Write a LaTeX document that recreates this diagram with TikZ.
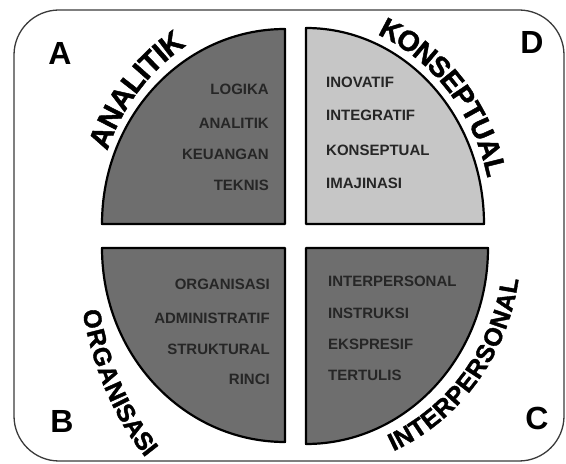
\documentclass[tikz,border=0pt]{standalone}
\usepackage{fontspec}
\setmainfont{Liberation Sans}
\newfontfamily\heavyfont{Liberation Sans}[UprightFont={* Bold}, FakeBold=1.5]
\definecolor{darkq}{HTML}{6E6E6E}
\definecolor{lightq}{HTML}{C6C6C6}
\definecolor{qtext}{HTML}{262626}
\definecolor{frameclr}{HTML}{3A3A3A}
% #1 centre coordinate, #2 x radius, #3 y radius, #4 middle angle,
% #5 direction (-1 clockwise, 1 counter-clockwise), #6 font size,
% #7 total width in em, #8 list letter/width
\newcommand\bentlabel[8]{%
  \pgfmathsetmacro\bentrate{100*sqrt((#2/100*sin(#4))^2+(#3/100*cos(#4))^2)}%
  \foreach \bch/\bwid [count=\bidx, remember=\bcumnew as \bcum (initially 0), evaluate=\bwid as \bcumnew using {\bcum+\bwid}] in {#8} {%
    \pgfmathsetmacro\bentoff{#6*(\bcum+\bwid/2-#7/2)}%
    \pgfmathsetmacro\bentang{#4+#5*\bentoff/\bentrate*57.29578}%
    \pgfmathsetmacro\bentrot{atan2(#5*#3/100*cos(\bentang),-#5*#2/100*sin(\bentang))}%
    \node[curvelbl, font=\heavyfont\fontsize{#6}{#6}\selectfont, rotate=\bentrot]
      (#1-\bidx) at ([shift={(\bentang:#2pt and #3pt)}]#1) {\bch};
  }%
}
\begin{document}
\begin{tikzpicture}[x=1pt,y=1pt,
  quad/.style={draw=black, line width=2.2pt, line join=round},
  item/.style={font=\bfseries\fontsize{15}{15}\selectfont, text=qtext, inner sep=0pt},
  cornerlbl/.style={font=\bfseries\fontsize{32}{32}\selectfont, inner sep=0pt},
  curvelbl/.style={inner sep=0pt, anchor=center},
]
\useasboundingbox (0,0) rectangle (566,464);
\draw[frameclr, line width=1.3pt, rounded corners=45pt] (14,3) rectangle (564,454);

\coordinate (cA) at (285,240);
\coordinate (cD) at (306,240);
\coordinate (cB) at (285,216);
\coordinate (cC) at (306,216);

\filldraw[quad, fill=darkq] (cA) -- ++(0pt,195pt) arc[start angle=90, end angle=180, x radius=183pt, y radius=195pt] -- cycle;
\filldraw[quad, fill=lightq] (cD) -- ++(178pt,0pt) arc[start angle=0, end angle=90, x radius=178pt, y radius=196pt] -- cycle;
\filldraw[quad, fill=darkq] (cB) -- ++(-183pt,0pt) arc[start angle=180, end angle=270, x radius=183pt, y radius=194pt] -- cycle;
\filldraw[quad, fill=darkq] (cC) -- ++(0pt,-196pt) arc[start angle=270, end angle=360, x radius=182pt, y radius=196pt] -- cycle;

% quadrant items
\node[item, anchor=east] (a1) at (269,375) {LOGIKA};
\node[item, anchor=east] (a2) at (269,341) {ANALITIK};
\node[item, anchor=east] (a3) at (269,310) {KEUANGAN};
\node[item, anchor=east] (a4) at (269,279) {TEKNIS};

\node[item, anchor=west] (d1) at (326,382) {INOVATIF};
\node[item, anchor=west] (d2) at (326,349) {INTEGRATIF};
\node[item, anchor=west] (d3) at (326,314) {KONSEPTUAL};
\node[item, anchor=west] (d4) at (326,281) {IMAJINASI};

\node[item, anchor=east] (b1) at (270,180) {ORGANISASI};
\node[item, anchor=east] (b2) at (270,146) {ADMINISTRATIF};
\node[item, anchor=east] (b3) at (270,115) {STRUKTURAL};
\node[item, anchor=east] (b4) at (270,85) {RINCI};

\node[item, anchor=west] (c1) at (328,183) {INTERPERSONAL};
\node[item, anchor=west] (c2) at (328,151) {INSTRUKSI};
\node[item, anchor=west] (c3) at (328,120) {EKSPRESIF};
\node[item, anchor=west] (c4) at (328,89) {TERTULIS};

% corner letters
\node[cornerlbl] (lA) at (60,411) {A};
\node[cornerlbl] (lD) at (532,422) {D};
\node[cornerlbl] (lB) at (62,43) {B};
\node[cornerlbl] (lC) at (537,46) {C};

% curved labels
\bentlabel{cA}{200}{219}{140.6}{-1}{30}{4.666}{A/0.722,N/0.722,A/0.722,L/0.611,I/0.278,T/0.611,I/0.278,K/0.722}
\bentlabel{cD}{196}{215}{40}{-1}{28.5}{6.889}{K/0.722,O/0.778,N/0.722,S/0.667,E/0.667,P/0.667,T/0.611,U/0.722,A/0.722,L/0.611}
\bentlabel{cB}{199}{274}{210.5}{1}{25}{6.334}{O/0.778,R/0.722,G/0.778,A/0.722,N/0.722,I/0.278,S/0.667,A/0.722,S/0.667,I/0.278}
\bentlabel{cC}{206}{214}{-37}{1}{25}{8.556}{I/0.278,N/0.722,T/0.611,E/0.667,R/0.722,P/0.667,E/0.667,R/0.722,S/0.667,O/0.778,N/0.722,A/0.722,L/0.611}
\end{tikzpicture}
\end{document}
